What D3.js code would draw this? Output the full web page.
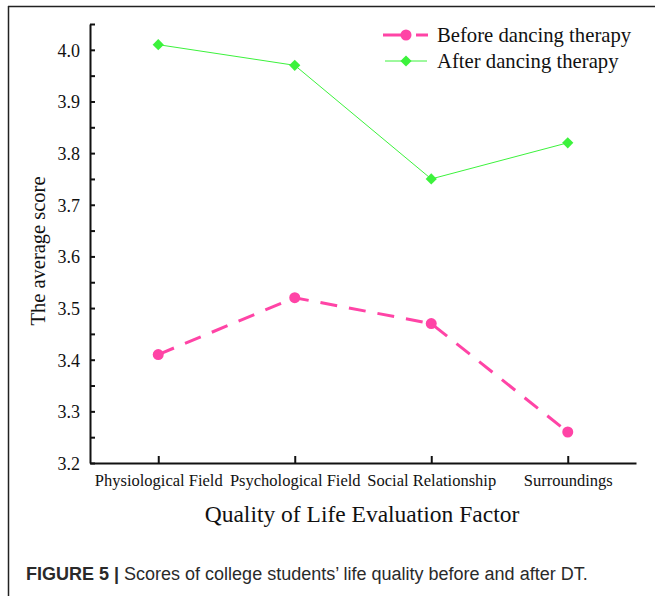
<!DOCTYPE html>
<html>
<head>
<meta charset="utf-8">
<script src="https://cdn.jsdelivr.net/npm/d3@7"></script>
<style>
  body { margin: 0; background: #fff; }
  svg { display: block; }
  .serif { font-family: "Liberation Serif", "Times New Roman", serif; fill: #111; }
</style>
</head>
<body>
<script>
var w = 659;
var h = 596;

// data
var factors = ["Physiological Field", "Psychological Field", "Social Relationship", "Surroundings"];
var before_dt = [3.41, 3.52, 3.47, 3.26];
var after_dt = [4.01, 3.97, 3.75, 3.82];
var y_ticks = [3.2, 3.3, 3.4, 3.5, 3.6, 3.7, 3.8, 3.9, 4.0];
var y_minor = [3.25, 3.35, 3.45, 3.55, 3.65, 3.75, 3.85, 3.95, 4.05];
var series_names = ["Before dancing therapy", "After dancing therapy"];

var pink = "#ff44a6";
var green = "#3cf23c";

var svg = d3.select("body").append("svg").attr("width", w).attr("height", h);

// frame of the figure (top + left edge only, like the cropped panel)
svg.append("line").attr("x1", 8).attr("x2", 655).attr("y1", 6.5).attr("y2", 6.5)
  .attr("stroke", "#222").attr("stroke-width", 1.5);
svg.append("line").attr("x1", 8.5).attr("x2", 8.5).attr("y1", 6).attr("y2", h)
  .attr("stroke", "#222").attr("stroke-width", 1.5);

var x = d3.scalePoint().domain(factors).range([90, 636]).padding(0.5);
var y = d3.scaleLinear().domain([3.2, 4.05]).range([463, 24]);

// y axis
var yAxis = d3.axisLeft(y).tickValues(y_ticks).tickFormat(d3.format(".1f"))
  .tickSizeInner(-5).tickSizeOuter(0).tickPadding(10);
var gy = svg.append("g").attr("transform", "translate(90,0)").call(yAxis);
gy.select(".domain").attr("stroke", "#111").attr("stroke-width", 2);
gy.selectAll(".tick line").attr("stroke", "#111").attr("stroke-width", 2);
gy.selectAll(".tick text").attr("class", "serif").style("font-size", "18px")
  .attr("dy", "0.36em");

var gym = svg.append("g").attr("transform", "translate(90,0)")
  .call(d3.axisLeft(y).tickValues(y_minor).tickSizeInner(-5).tickSizeOuter(0).tickFormat(""));
gym.select(".domain").remove();
gym.selectAll(".tick line").attr("stroke", "#111").attr("stroke-width", 2);

// x axis
var xAxis = d3.axisBottom(x).tickSizeInner(-7).tickSizeOuter(0).tickPadding(11);
var gx = svg.append("g").attr("transform", "translate(0,463)").call(xAxis);
gx.select(".domain").attr("stroke", "#111").attr("stroke-width", 2);
gx.selectAll(".tick line").attr("stroke", "#111").attr("stroke-width", 2);
gx.selectAll(".tick text").attr("class", "serif").style("font-size", "16.5px");

// axis titles
svg.append("text").attr("class", "serif")
  .attr("x", 362).attr("y", 522).attr("text-anchor", "middle")
  .style("font-size", "23.5px").text("Quality of Life Evaluation Factor");
svg.append("text").attr("class", "serif")
  .attr("transform", "translate(45,251) rotate(-90)").attr("text-anchor", "middle")
  .style("font-size", "20.5px").text("The average score");

var line = d3.line()
  .x(function(d, i) { return x(factors[i]); })
  .y(function(d) { return y(d); });

// before: dashed pink with dots
svg.append("path").datum(before_dt).attr("d", line)
  .attr("fill", "none").attr("stroke", pink).attr("stroke-width", 3)
  .attr("stroke-dasharray", "17,12");
svg.selectAll(".dot").data(before_dt).enter().append("circle")
  .attr("class", "dot")
  .attr("cx", function(d, i) { return x(factors[i]); })
  .attr("cy", function(d) { return y(d); })
  .attr("r", 5.5).attr("fill", pink);

// after: thin green with diamonds
svg.append("path").datum(after_dt).attr("d", line)
  .attr("fill", "none").attr("stroke", green).attr("stroke-width", 1);
var diamond = d3.symbol().type(d3.symbolDiamond2).size(80);
svg.selectAll(".dia").data(after_dt).enter().append("path")
  .attr("class", "dia")
  .attr("transform", function(d, i) { return "translate(" + x(factors[i]) + "," + y(d) + ")"; })
  .attr("d", diamond).attr("fill", green);

// legend
var lg = svg.append("g");
lg.append("line").attr("x1", 383).attr("x2", 428).attr("y1", 35).attr("y2", 35)
  .attr("stroke", pink).attr("stroke-width", 3).attr("stroke-dasharray", "28,5,12");
lg.append("circle").attr("cx", 406).attr("cy", 35).attr("r", 5.5).attr("fill", pink);
lg.append("line").attr("x1", 385).attr("x2", 427).attr("y1", 61).attr("y2", 61)
  .attr("stroke", green).attr("stroke-width", 1);
lg.append("path").attr("transform", "translate(406,61)").attr("d", diamond).attr("fill", green);
lg.selectAll("text").data(series_names).enter().append("text")
  .attr("class", "serif")
  .attr("x", 437).attr("y", function(d, i) { return 42 + i * 26; })
  .style("font-size", "20.7px").text(function(d) { return d; });

// caption
var cap = svg.append("text").attr("x", 26).attr("y", 580)
  .style("font-family", "'Liberation Sans', Arial, sans-serif").style("font-size", "18px")
  .attr("fill", "#2a2a2a");
cap.append("tspan").style("font-weight", "bold").text("FIGURE 5 | ");
cap.append("tspan").text("Scores of college students\u2019 life quality before and after DT.");
</script>
</body>
</html>
